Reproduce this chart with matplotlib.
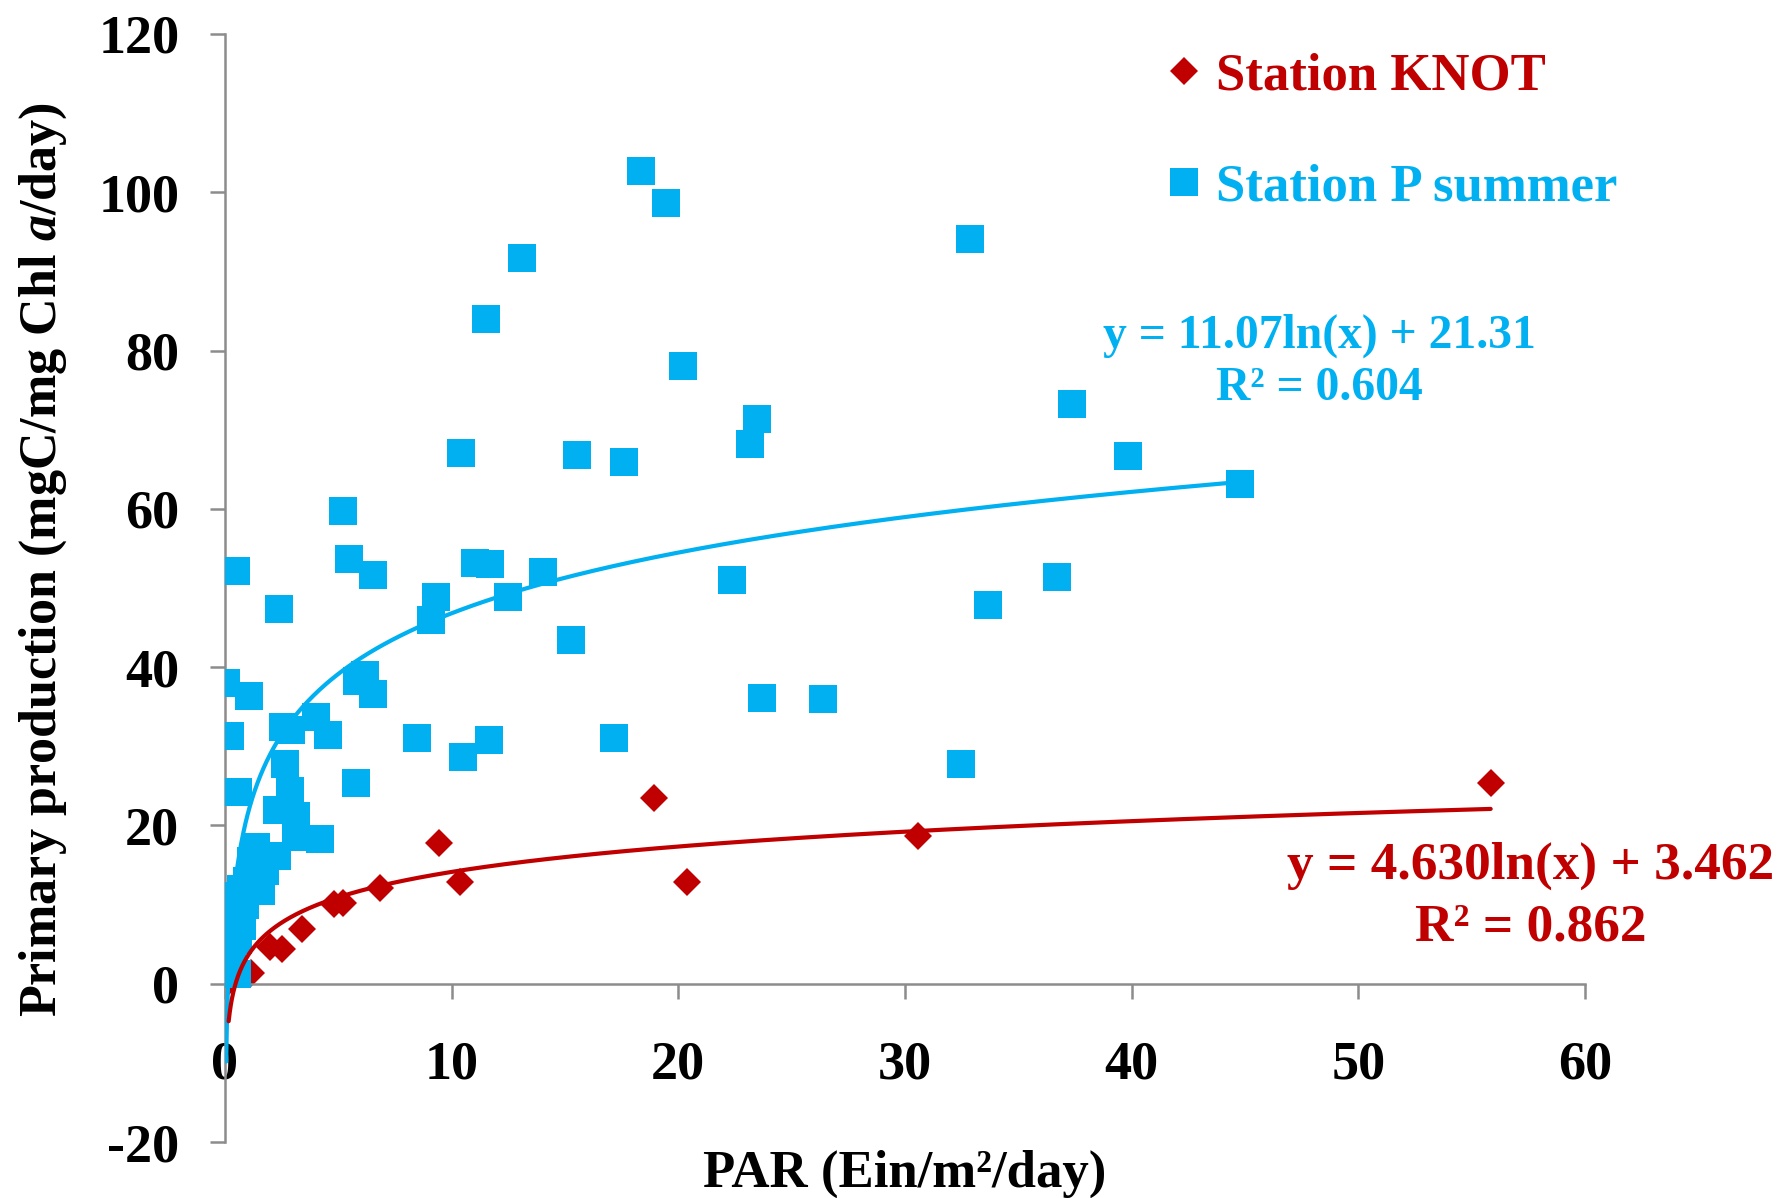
import numpy as np
import matplotlib
matplotlib.use("Agg")
import matplotlib.pyplot as plt
from matplotlib.lines import Line2D

# ---------------- data ----------------
knot_x = [0.17, 1.15, 2.0, 2.54, 3.4, 4.8, 5.2, 6.86, 9.43, 10.36, 18.93, 20.37, 30.58, 55.84]
knot_y = [0.3, 1.4, 4.6, 4.4, 6.9, 10.1, 10.2, 12.1, 17.8, 12.8, 23.5, 12.9, 18.7, 25.4]

p_x = [0.06, 1.07, 0.23, 0.5, 2.39, 2.57, 2.93, 4.03, 4.56, 5.85, 6.2, 6.55, 5.79, 2.66,
       0.57, 2.88, 2.3, 3.15, 4.22, 3.15, 1.39, 2.3, 1.77, 0.06, 1.6, 1.15, 0.27, 0.76,
       0.06, 0.55, 0.15, 0.4, 0.6, 0.3, 0.9, 1.0, 0.7, 1.3,
       5.23, 5.48, 6.52, 9.32, 9.11, 8.48, 10.52, 11.65, 10.42, 11.05, 11.7, 11.54,
       13.12, 12.51, 14.02, 15.27, 15.55, 17.62, 17.18, 18.36, 19.48, 20.2, 22.37,
       23.46, 23.15, 23.68, 26.39, 32.49, 32.86, 33.68, 36.7, 37.39, 39.83, 44.8]
p_y = [38.0, 36.3, 31.3, 52.2, 47.4, 32.4, 32.1, 33.7, 31.4, 38.2, 39.0, 36.6, 25.4, 27.8,
       24.2, 24.4, 21.9, 21.2, 18.3, 18.5, 17.3, 16.2, 14.3, 11.1, 11.7, 15.5, 7.5, 7.3,
       2.7, 1.2, 4.6, 9.5, 5.5, 3.5, 10.0, 13.0, 12.0, 13.5,
       59.7, 53.7, 51.6, 48.8, 46.0, 31.0, 28.7, 30.8, 67.1, 53.1, 53.0, 84.0,
       91.7, 48.8, 52.0, 43.4, 66.8, 65.9, 31.0, 102.7, 98.6, 78.0, 51.0,
       71.4, 68.2, 36.1, 36.0, 27.7, 94.1, 47.8, 51.4, 73.3, 66.7, 63.2]

# logarithmic trend coefficients (y = a ln x + b) and R²
knot_fit = (4.630, 3.462, 0.862)
p_fit = (11.07, 21.31, 0.604)

x_ticks = [0, 10, 20, 30, 40, 50, 60]
y_ticks = [-20, 0, 20, 40, 60, 80, 100, 120]

RED = "#C00000"
BLUE = "#00B0F0"
GREY = "#8C8C8C"
FONT = "Liberation Serif"

plt.rcParams["font.family"] = [FONT, "DejaVu Serif"]
plt.rcParams["font.weight"] = "bold"
plt.rcParams["axes.unicode_minus"] = False
plt.rcParams["mathtext.fontset"] = "custom"
plt.rcParams["mathtext.rm"] = "Liberation Serif:bold"
plt.rcParams["mathtext.it"] = "Liberation Serif:italic:bold"
plt.rcParams["mathtext.bf"] = "Liberation Serif:bold"

fig = plt.figure(figsize=(17.89, 11.98), dpi=100)
ax = fig.add_axes([0.12566, 0.04674, 0.7603, 0.9249])

ax.plot(p_x, p_y, ls="none", marker="s", ms=20, mew=0, color=BLUE, zorder=3,
        label="Station P summer")
ax.plot(knot_x, knot_y, ls="none", marker="D", ms=14, mew=0, color=RED, zorder=2,
        label="Station KNOT")

for xs, (a, b, r2), col in ((p_x, p_fit, BLUE), (knot_x, knot_fit, RED)):
    xx = np.geomspace(min(xs), max(xs), 400)
    ax.plot(xx, a * np.log(xx) + b, color=col, lw=3.0, zorder=4, solid_capstyle="round")

ax.set_xlim(0, 60)
ax.set_ylim(-20, 120)
ax.set_xticks(x_ticks)
ax.set_yticks(y_ticks)
ax.set_xticklabels([str(t) for t in x_ticks])
ax.set_yticklabels([str(t) for t in y_ticks])

for s in ("top", "right"):
    ax.spines[s].set_visible(False)
ax.spines["bottom"].set_position(("data", 0))
for s in ("left", "bottom"):
    ax.spines[s].set_color(GREY)
    ax.spines[s].set_linewidth(1.8)
ax.tick_params(axis="both", direction="out", length=10.8, width=1.8, color=GREY,
               labelsize=39)
ax.tick_params(axis="x", pad=30)
ax.tick_params(axis="y", pad=22)
for lab in ax.get_xticklabels() + ax.get_yticklabels():
    lab.set_fontweight("bold")

ax.set_xlabel("PAR (Ein/m²/day)", fontsize=38, fontweight="bold")
ax.xaxis.label.set_va("baseline")
ax.xaxis.set_label_coords(0.5, -0.0406)
ax.set_ylabel(r"Primary production (mgC/mg Chl $\mathit{a}$/day)", fontsize=37.5,
              fontweight="bold")
ax.yaxis.label.set_va("center")
ax.yaxis.set_label_coords(-0.1337, 0.526)

# trendline equations
ax.text(48.27, 80.4, "y = %.2fln(x) + %.2f" % (p_fit[0], p_fit[1]), color=BLUE,
        fontsize=34.3, fontweight="bold", ha="center", va="baseline")
ax.text(48.27, 73.7, "R² = %.3f" % p_fit[2], color=BLUE,
        fontsize=34.3, fontweight="bold", ha="center", va="baseline")
ax.text(57.6, 13.3, "y = %.3fln(x) + %.3f" % (knot_fit[0], knot_fit[1]), color=RED,
        fontsize=38.3, fontweight="bold", ha="center", va="baseline")
ax.text(57.6, 5.5, "R² = %.3f" % knot_fit[2], color=RED,
        fontsize=38.3, fontweight="bold", ha="center", va="baseline")

handles = [Line2D([], [], ls="none", marker="D", ms=14, mew=0, color=RED),
           Line2D([], [], ls="none", marker="s", ms=20, mew=0, color=BLUE)]
leg = ax.legend(handles, ["Station KNOT", "Station P summer"], loc="upper left",
                bbox_to_anchor=(1168 / 1789, 1 - 52 / 1198), bbox_transform=fig.transFigure,
                frameon=False, handlelength=0.6, handletextpad=0.3,
                labelspacing=1.2, borderpad=0, borderaxespad=0,
                prop={"family": FONT, "weight": "bold", "size": 38})
for t, c in zip(leg.get_texts(), (RED, BLUE)):
    t.set_color(c)

fig.savefig("out.png", dpi=100, facecolor="white")
